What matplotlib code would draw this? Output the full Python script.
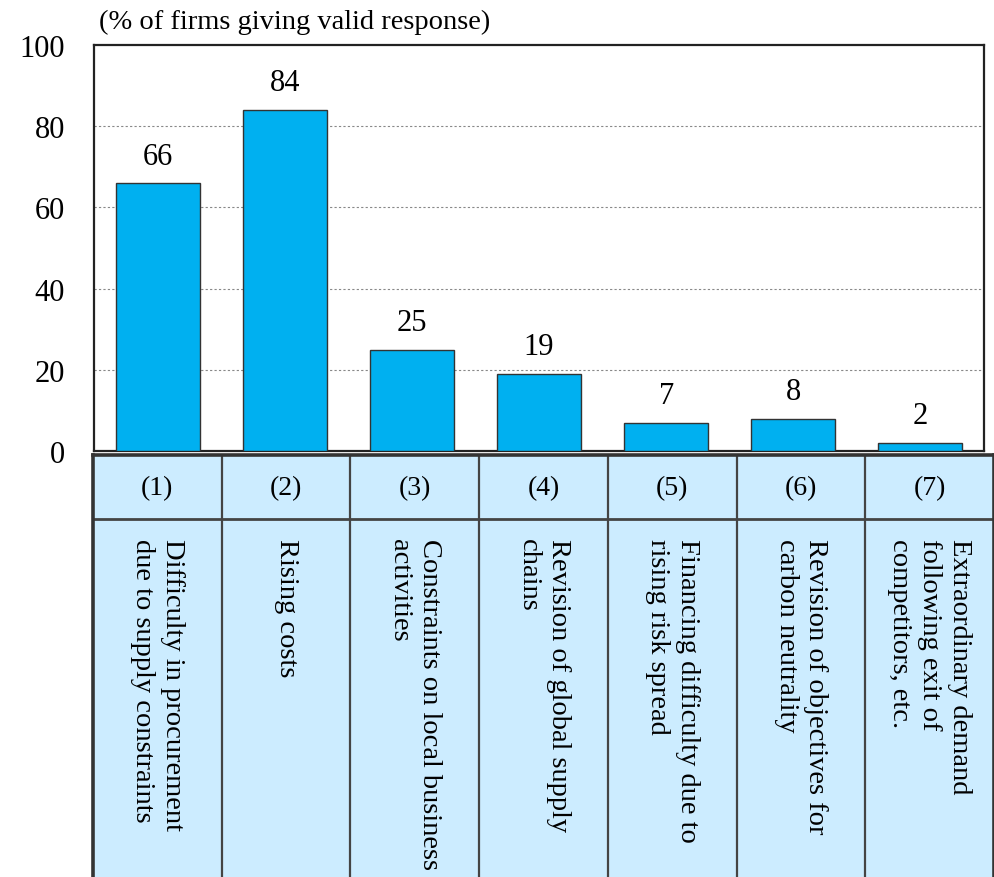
import numpy as np
import matplotlib
matplotlib.use("Agg")
import matplotlib.pyplot as plt

plt.rcParams['font.family'] = ['Liberation Serif', 'DejaVu Serif']

codes = ["(1)", "(2)", "(3)", "(4)", "(5)", "(6)", "(7)"]
values = [66, 84, 25, 19, 7, 8, 2]
labels = [
    "Difficulty in procurement\ndue to supply constraints",
    "Rising costs",
    "Constraints on local business\nactivities",
    "Revision of global supply\nchains",
    "Financing difficulty due to\nrising risk spread",
    "Revision of objectives for\ncarbon neutrality",
    "Extraordinary demand\nfollowing exit of\ncompetitors, etc.",
]
yticks = [0, 20, 40, 60, 80, 100]

W, H = 995, 878
fig = plt.figure(figsize=(W / 100, H / 100), dpi=100)

# bar chart
ax = fig.add_axes([94 / W, 1 - 452 / H, (984 - 94) / W, (452 - 46) / H])
x = np.arange(len(values))
bars = ax.bar(x, values, width=0.66, color="#00B0F0", edgecolor="#333333",
              linewidth=1.0, zorder=3)
for xi, v in zip(x, values):
    ax.annotate(str(v), (xi, v), xytext=(0, 9), textcoords="offset points",
                ha="center", va="bottom", fontsize=22)
ax.set_xlim(-0.5, len(values) - 0.5)
ax.set_ylim(0, 100)
ax.set_yticks(yticks)
ax.set_yticklabels([str(t) for t in yticks], fontsize=22)
ax.tick_params(axis="y", length=0, pad=21)
ax.set_xticks([])
for t in [20, 40, 60, 80]:
    ax.axhline(t, color="#888888", linestyle=(0, (2, 2)), linewidth=0.8, zorder=1)
for s in ax.spines.values():
    s.set_linewidth(1.6)
    s.set_color("#222222")
ax.text(0.006, 1.058, "(% of firms giving valid response)", transform=ax.transAxes,
        ha="left", va="center", fontsize=20.5)

# category table below
tb = fig.add_axes([93 / W, -0.002, (994 - 93) / W, 1 - 456 / H + 0.002])
tb.set_facecolor("#CCECFF")
tb.set_xlim(0, len(codes))
tb.set_ylim(1, 0)
tb.set_xticks([])
tb.set_yticks([])
row = 64 / (878 - 456)
for i in range(1, len(codes)):
    tb.axvline(i, color="#444444", linewidth=1.6)
tb.axhline(row, color="#444444", linewidth=2.0)
for s in tb.spines.values():
    s.set_linewidth(2.6)
    s.set_color("#333333")
for i, (c, lab) in enumerate(zip(codes, labels)):
    tb.text(i + 0.5, row / 2, c, ha="center", va="center", fontsize=20)
    tb.text(i + 0.5, row + 0.045, lab, ha="center", va="top", rotation=-90,
            fontsize=20.5, linespacing=1.25, multialignment="left")

fig.savefig("out.png", dpi=100)
